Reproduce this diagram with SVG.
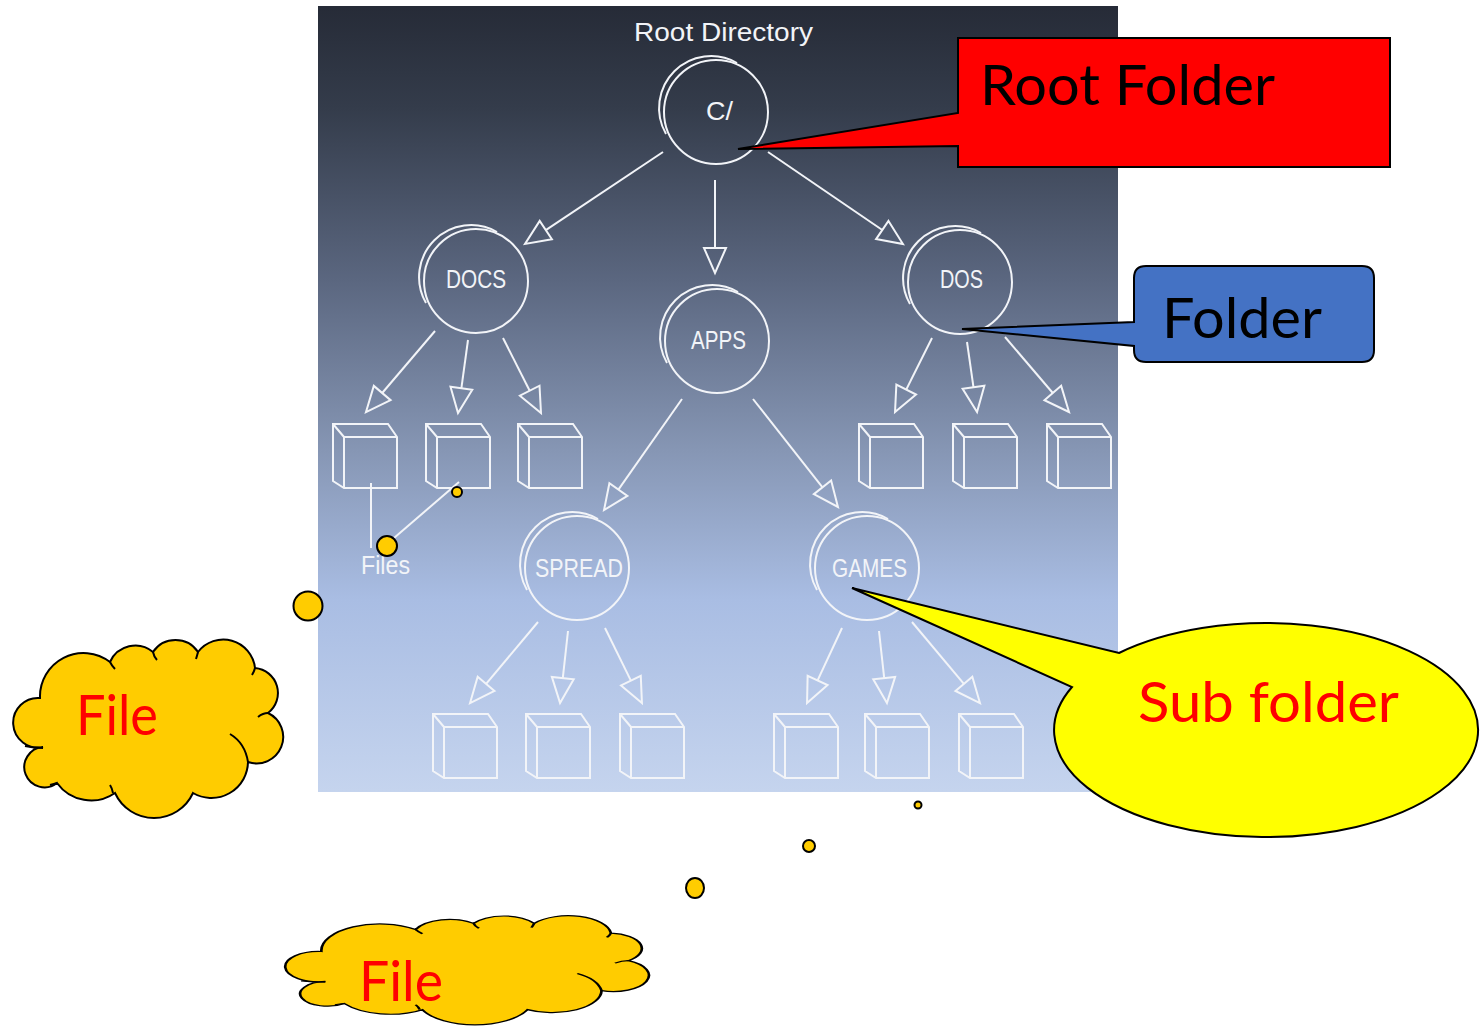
<svg xmlns="http://www.w3.org/2000/svg" width="1482" height="1029" viewBox="0 0 1482 1029">
  <style>
    .wire{fill:none;stroke:#f2f4f8;stroke-width:2}
    .edge{fill:none;stroke:#f2f4f8;stroke-width:2;marker-end:url(#tri)}
    .lbl{font-family:"Liberation Sans",Arial,sans-serif;font-size:25px;fill:#f2f4f8}
    .call{font-family:Lato,"Liberation Sans",Arial,sans-serif;font-size:57px}
    .bub{fill:#ffcc00;stroke:#000;stroke-width:2}
    .cloud{fill:#ffcc00;stroke:#000;stroke-width:2;vector-effect:non-scaling-stroke}
    .cloudline{fill:none;stroke:#000;stroke-width:2;vector-effect:non-scaling-stroke}
  </style>
  <defs>
    <linearGradient id="bg" x1="0" y1="0" x2="0" y2="1">
      <stop offset="0" stop-color="#262b37"/>
      <stop offset="0.13" stop-color="#343c4b"/>
      <stop offset="0.35" stop-color="#5b6780"/>
      <stop offset="0.565" stop-color="#8696b4"/>
      <stop offset="0.755" stop-color="#a9bde3"/>
      <stop offset="1" stop-color="#c5d4ee"/>
    </linearGradient>
    <!-- hollow triangular arrowhead; its base sits on the line end -->
    <marker id="tri" markerUnits="userSpaceOnUse" viewBox="-2 -13 30 26" markerWidth="30" markerHeight="26" refX="0" refY="0" orient="auto">
      <path d="M0,-11 L25,0 L0,11 Z" fill="none" stroke="#f2f4f8" stroke-width="2"/>
    </marker>
    <!-- folder ring: circle with a second offset arc on the upper-left -->
    <g id="ring">
      <circle cx="0" cy="0" r="52" class="wire"/>
      <path d="M-50,22 A52,52 0 0 1 21,-49" class="wire"/>
    </g>
    <!-- file box drawn in outline -->
    <path id="cube" class="wire" d="M0,0 H55 L64,13 V64 H11 L0,57 Z M11,13 H64 M11,13 V64 M0,0 L11,13"/>
    <!-- cloud outline -->
    <path id="cloudShape" d="M43,747 A24.8,24.8 0 1 1 40,698 A43.5,43.5 0 0 1 110,662 A27.6,27.6 0 0 1 153,652 A27.1,27.1 0 0 1 198,652 A31.9,31.9 0 0 1 255,668 A25.1,25.1 0 0 1 268,713 A26.5,26.5 0 0 1 248,762 A36.6,36.6 0 0 1 193,793 A42.9,42.9 0 0 1 115,793 A42,42 0 0 1 57,783 A20.2,20.2 0 1 1 43,747 Z"/>
    <path id="cloudInner" d="M25,746 Q34,748 43,748 M153,652 Q154,657 157,660 M198,652 Q197,656 196,659 M255,668 Q254,672 252,675 M268,713 Q263,713 258,717 M230,734 Q245,743 248,762 M113,793 Q112,788 110,785 M50,785 Q54,784 57,783 M110,662 Q112,666 115,669"/>
  </defs>

  <rect x="0" y="0" width="1482" height="1029" fill="#ffffff"/>
  <rect x="318" y="6" width="800" height="786" fill="url(#bg)"/>

  <text class="lbl" x="634" y="41" font-size="28" textLength="179" lengthAdjust="spacingAndGlyphs">Root Directory</text>

  <!-- folder nodes -->
  <g id="node-root">
    <use href="#ring" x="716" y="112"/>
    <text class="lbl" x="706" y="120" textLength="27" lengthAdjust="spacingAndGlyphs">C/</text>
  </g>
  <g id="node-docs">
    <use href="#ring" x="476" y="281"/>
    <text class="lbl" x="446" y="288" textLength="60" lengthAdjust="spacingAndGlyphs">DOCS</text>
  </g>
  <g id="node-apps">
    <use href="#ring" x="717" y="341"/>
    <text class="lbl" x="691" y="349" textLength="55" lengthAdjust="spacingAndGlyphs">APPS</text>
  </g>
  <g id="node-dos">
    <use href="#ring" x="960" y="282"/>
    <text class="lbl" x="940" y="288" textLength="43" lengthAdjust="spacingAndGlyphs">DOS</text>
  </g>
  <g id="node-spread">
    <use href="#ring" x="577" y="568"/>
    <text class="lbl" x="535" y="577" textLength="88" lengthAdjust="spacingAndGlyphs">SPREAD</text>
  </g>
  <g id="node-games">
    <use href="#ring" x="867" y="568"/>
    <text class="lbl" x="832" y="577" textLength="75" lengthAdjust="spacingAndGlyphs">GAMES</text>
  </g>

  <!-- file nodes -->
  <g id="files-docs">
    <use href="#cube" x="333" y="424"/>
    <use href="#cube" x="426" y="424"/>
    <use href="#cube" x="518" y="424"/>
  </g>
  <g id="files-dos">
    <use href="#cube" x="859" y="424"/>
    <use href="#cube" x="953" y="424"/>
    <use href="#cube" x="1047" y="424"/>
  </g>
  <g id="files-spread">
    <use href="#cube" x="433" y="714"/>
    <use href="#cube" x="526" y="714"/>
    <use href="#cube" x="620" y="714"/>
  </g>
  <g id="files-games">
    <use href="#cube" x="774" y="714"/>
    <use href="#cube" x="865" y="714"/>
    <use href="#cube" x="959" y="714"/>
  </g>
  <g id="files-label">
    <text class="lbl" x="361" y="574" font-size="26" textLength="49" lengthAdjust="spacingAndGlyphs">Files</text>
  </g>

  <!-- connectors -->
  <g id="connectors">
    <path class="edge" d="M663,152 L545.8,230.1"/>
    <path class="edge" d="M715,180 L715,248"/>
    <path class="edge" d="M768,152 L882.3,230"/>
    <path class="edge" d="M435,331 L382.2,393"/>
    <path class="edge" d="M468,340 L461.4,388.2"/>
    <path class="edge" d="M503,338 L529.7,390.7"/>
    <path class="edge" d="M932,338 L906.2,389.6"/>
    <path class="edge" d="M967,342 L973.5,387.3"/>
    <path class="edge" d="M1005,337 L1052.8,393"/>
    <path class="edge" d="M682,399 L618.4,489.6"/>
    <path class="edge" d="M753,399 L822.5,487.3"/>
    <path class="edge" d="M538,622 L486.1,683.9"/>
    <path class="edge" d="M568,631 L562.8,678.1"/>
    <path class="edge" d="M605,628 L630.9,680.6"/>
    <path class="edge" d="M842,628 L817.6,680.4"/>
    <path class="edge" d="M879,631 L884.2,678.1"/>
    <path class="edge" d="M912,622 L963.9,683.9"/>
    <path class="wire" d="M371,483 V548"/>
    <path class="wire" d="M459,482 L394,538"/>
  </g>

  <!-- callouts -->
  <g id="callout-root">
    <path d="M958,38 H1390 V167 H958 V146 L738,149 L958,113 Z" fill="#ff0000" stroke="#000" stroke-width="2"/>
    <text class="call" x="980" y="105" fill="#000" textLength="295" lengthAdjust="spacingAndGlyphs">Root Folder</text>
  </g>
  <g id="callout-folder">
    <path d="M1146,266 H1362 Q1374,266 1374,278 V350 Q1374,362 1362,362 H1146 Q1134,362 1134,350 V346 L962,329 L1134,322 V278 Q1134,266 1146,266 Z" fill="#4472c4" stroke="#000" stroke-width="2"/>
    <text class="call" x="1162" y="338" fill="#000" textLength="160" lengthAdjust="spacingAndGlyphs">Folder</text>
  </g>
  <g id="callout-sub">
    <path d="M1119,653 A212,107 0 1 1 1072,687 L852,588 Z" fill="#ffff00" stroke="#000" stroke-width="2"/>
    <text class="call" x="1138" y="722" fill="#ff0000" textLength="261" lengthAdjust="spacingAndGlyphs">Sub folder</text>
  </g>

  <!-- thought clouds -->
  <g id="cloud-file-left">
    <circle class="bub" cx="457" cy="492" r="5" stroke-width="1.5"/>
    <circle class="bub" cx="387" cy="546" r="10"/>
    <circle class="bub" cx="308" cy="606" r="14.5"/>
    <use href="#cloudShape" class="cloud"/>
    <use href="#cloudInner" class="cloudline"/>
    <text class="call" x="76" y="735" font-size="58" fill="#ff0000" textLength="82" lengthAdjust="spacingAndGlyphs">File</text>
  </g>
  <g id="cloud-file-bottom">
    <circle class="bub" cx="918" cy="805" r="3.5" stroke-width="1.5"/>
    <circle class="bub" cx="809" cy="846" r="6"/>
    <ellipse class="bub" cx="695" cy="888" rx="9" ry="10"/>
    <g transform="translate(285,916) scale(1.347,0.612) translate(-13,-640)">
      <use href="#cloudShape" class="cloud"/>
      <use href="#cloudInner" class="cloudline"/>
    </g>
    <text class="call" x="359" y="1001" font-size="58" fill="#ff0000" textLength="84" lengthAdjust="spacingAndGlyphs">File</text>
  </g>
</svg>
